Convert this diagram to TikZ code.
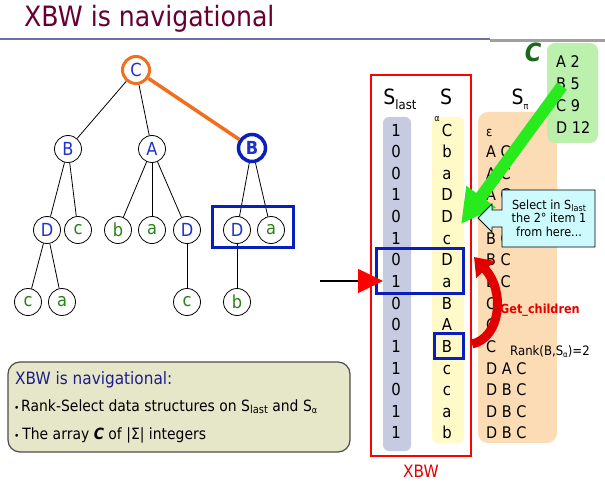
\documentclass[tikz,border=0pt]{standalone}
\usepackage{fontspec}
\setmainfont{DejaVu Sans}[FakeStretch=0.9]
\usetikzlibrary{arrows.meta}
\definecolor{titlecol}{RGB}{102,0,51}
\definecolor{nodeblue}{RGB}{30,50,200}
\definecolor{nodegreen}{RGB}{40,130,20}
\definecolor{orangec}{RGB}{240,110,30}
\definecolor{boxblue}{RGB}{10,30,190}
\definecolor{slastbg}{RGB}{198,203,225}
\definecolor{sbg}{RGB}{255,250,200}
\definecolor{spibg}{RGB}{252,220,180}
\definecolor{cbg}{RGB}{180,240,165}
\definecolor{callbg}{RGB}{205,250,252}
\definecolor{notebg}{RGB}{230,230,200}
\definecolor{arrgreen}{RGB}{40,235,30}
\definecolor{linepurple}{RGB}{110,110,170}
\definecolor{linegray}{RGB}{160,160,160}
\definecolor{darkgreenC}{RGB}{25,105,25}
\definecolor{notetitle}{RGB}{30,30,140}
\newcommand\fs[1]{\fontsize{#1}{#1}\selectfont}
\newcommand\lowsub[2]{\raisebox{-0.35ex}{\fs{#1}#2}}
\begin{document}
\begin{tikzpicture}[x=1pt,y=-1pt,
  tnode/.style={circle,draw,line width=0.8pt,minimum size=27pt,inner sep=0pt,fill=white,font=\fs{18}},
  bl/.style={tnode,text=nodeblue},
  gr/.style={tnode,text=nodegreen},
  tedge/.style={line width=0.8pt},
  cell/.style={anchor=base,inner sep=0pt,font=\fs{16.5}},
  pcell/.style={anchor=base west,inner sep=0pt,font=\fs{16}},
  hibox/.style={draw=boxblue,line width=3pt},
  txt/.style={inner sep=0pt}]
\useasboundingbox[fill=white] (0,0) rectangle (605,484);
% title
\node[txt,anchor=base west,text=titlecol,font=\fs{28}] (title) at (24,27) {XBW is navigational};
\draw[line width=2pt,linepurple] (0,39) -- (490,39);
\draw[line width=3pt,linegray] (490,40.5) -- (605,40.5);
% tree nodes
\node[bl,draw=orangec,line width=3pt] (root) at (136,70) {C};
\node[bl] (b1) at (68,149) {B};
\node[bl] (a1) at (152,149) {A};
\node[bl,line width=3.5pt,draw=boxblue,font=\fs{18}\bfseries] (b2) at (252,148) {B};
\node[bl] (d1) at (47,230) {D};
\node[gr] (c1) at (78,230) {c};
\node[gr] (bb1) at (118,230) {b};
\node[gr] (aa1) at (152,230) {a};
\node[bl] (d2) at (187,230) {D};
\node[bl] (d3) at (237,230) {D};
\node[gr] (aa2) at (271,230) {a};
\node[gr] (c2) at (28,302) {c};
\node[gr] (aa3) at (62,302) {a};
\node[gr] (c3) at (187,302) {c};
\node[gr] (bb2) at (237,302) {b};
\draw[tedge] (root) -- (b1);
\draw[tedge] (root) -- (a1);
\draw[line width=3.5pt,orangec] (root) -- (b2);
\draw[tedge] (b1) -- (d1);
\draw[tedge] (b1) -- (c1);
\draw[tedge] (a1) -- (bb1);
\draw[tedge] (a1) -- (aa1);
\draw[tedge] (a1) -- (d2);
\draw[tedge] (b2) -- (d3);
\draw[tedge] (b2) -- (aa2);
\draw[tedge] (d1) -- (c2);
\draw[tedge] (d1) -- (aa3);
\draw[tedge] (d2) -- (c3);
\draw[tedge] (d3) -- (bb2);
\draw[hibox] (212,206) rectangle (293,247);
% left arrow
\coordinate (arrtail) at (320,281);
\coordinate (arrtip) at (383,281);
% XBW box
\draw[red,line width=1.5pt] (371,75) rectangle (471,456);
\node[txt,anchor=base,text=red!90!black,font=\fs{17}] (xbw) at (421,477) {XBW};
\fill[slastbg,rounded corners=6pt] (383,117) rectangle (411,451);
\fill[sbg,rounded corners=6pt] (432,117) rectangle (464,443);
\node[txt,anchor=base,font=\fs{21}] (hslast) at (400,105) {S\lowsub{13}{last}};
\node[txt,anchor=base,font=\fs{21}] (hs) at (446,105) {S};
\node[txt,anchor=base,font=\fs{9}] (halpha) at (437,122) {α};
\foreach \v [count=\i] in {1,0,0,1,0,1,0,1,0,0,1,1,0,1,1}{
  \pgfmathsetmacro\yy{130+21.64*(\i-1)+6}
  \node[cell] (sl\i) at (396,\yy) {\v};
}
\foreach \v [count=\i] in {C,b,a,D,D,c,D,a,B,A,B,c,c,a,b}{
  \pgfmathsetmacro\yy{130+21.64*(\i-1)+6}
  \node[cell] (s\i) at (447,\yy) {\v};
}
\draw[hibox] (376,248) rectangle (463,293);
\draw[hibox] (434,333) rectangle (463,358);
\draw[line width=1.5pt,-{Triangle[length=25pt,width=24pt,color=red,fill=red]}] (arrtail) -- (arrtip);
% S_pi
\fill[spibg,rounded corners=10pt] (478,112) rectangle (557,443);
\node[txt,anchor=base,font=\fs{21}] (hspi) at (520,105) {S\lowsub{9}{π}};
\node[txt,anchor=base west,font=\fs{13}] (p1) at (486,136) {ε};
\foreach \v [count=\i from 2] in {A C,A C,A C,B C,B C,B C,B C,C,C,C,D A C,D B C,D B C,D B C}{
  \pgfmathsetmacro\yy{130+21.64*(\i-1)+6}
  \node[pcell] (p\i) at (486,\yy) {\v};
}
% C array
\fill[cbg,rounded corners=8pt,opacity=0.9] (547,43) rectangle (598,143);
\node[txt,anchor=base,text=darkgreenC,font=\fs{25}\bfseries\itshape] (bigC) at (533,62) {C};
\foreach \v [count=\i] in {A 2,B 5,C 9,D 12}{
  \pgfmathsetmacro\yy{62+21.7*(\i-1)+6}
  \node[pcell] (cc\i) at (556,\yy) {\v};
}
% green arrow
\coordinate (gtail) at (562,86);
\coordinate (gtip) at (461,224);
\draw[arrgreen,line width=12pt,-{Triangle[length=34pt,width=34pt]}] (gtail) -- (gtip);
% callout
\draw[fill=callbg,line width=0.8pt,line join=miter] (502,190) -- (595,190) -- (595,247) -- (502,247) -- (502,227) -- (492,227) -- (492,232) -- (478,218) -- (492,204) -- (492,210) -- (502,210) -- cycle;
\node[txt,align=center,font=\fs{12.5}] (callt) at (549,218) {Select in S\lowsub{9}{last}\\[1pt]the 2° item 1\\[1pt]from here...};
% curved red arrow
\coordinate (rtail) at (472,344);
\coordinate (rtip) at (474,257);
\draw[red!88!black,line width=9pt,-{Triangle[length=17pt,width=24pt]}] (rtail) .. controls (500,338) and (506,292) .. (rtip);
\node[txt,anchor=base west,text=red!90!black,font=\fs{12.5}\bfseries] (getch) at (500,313) {Get\_children};
\node[txt,anchor=base west,font=\fs{13}] (rank) at (510,355) {Rank(B,S\lowsub{8}{α})=2};
% note box
\draw[fill=notebg,draw=black!70,line width=1.2pt,rounded corners=12pt] (8,362) rectangle (350,452);
\node[txt,anchor=base west,text=notetitle,font=\fs{17}] (nt) at (15,384) {XBW is navigational:};
\node[txt,anchor=base west,font=\fs{15.5}] (nb1) at (14,411) {\fs{10}•\,\fs{15.5}Rank-Select data structures on S\lowsub{11}{last} and S\lowsub{9}{α}};
\node[txt,anchor=base west,font=\fs{15.5}] (nb2) at (14,439) {\fs{10}•\ \fs{15.5}The array \textbf{\itshape C} of |Σ| integers};
\end{tikzpicture}
\end{document}
